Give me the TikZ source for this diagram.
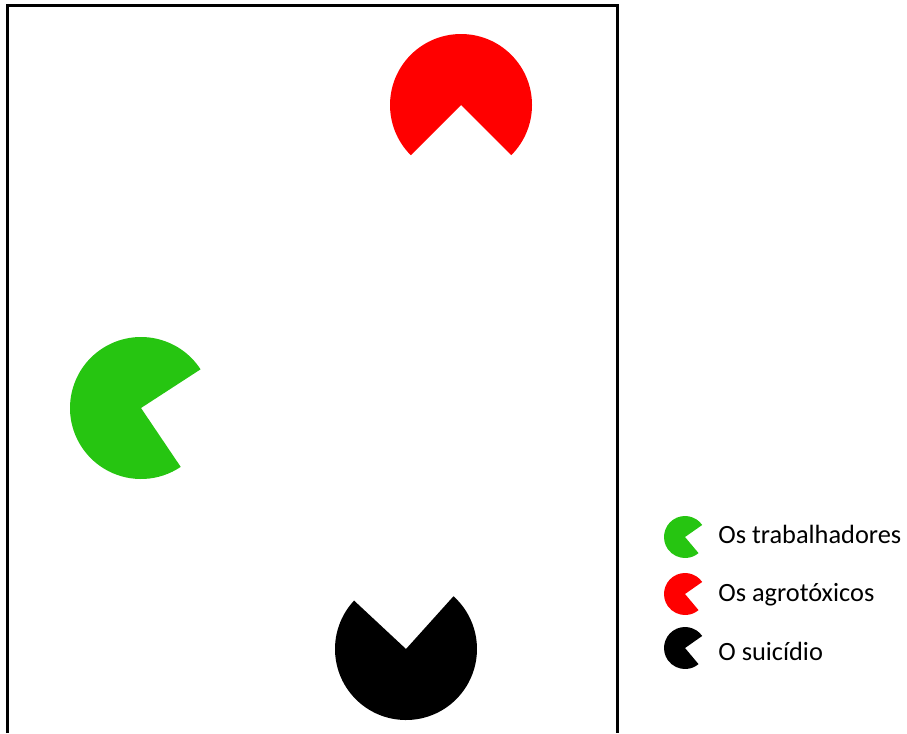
\documentclass[tikz,border=0pt]{standalone}
\usepackage{fontspec}
\setmainfont{Carlito}
\usepackage{tikz}
\usetikzlibrary{calc,positioning}
\definecolor{pacgreen}{RGB}{38,197,17}

\begin{document}
\begin{tikzpicture}[
  frame/.style={line width=1.5pt, draw=black},
  legtext/.style={anchor=base west, inner sep=0pt, font=\fontsize{15}{18}\selectfont},
]
\useasboundingbox (0,0) rectangle (18.14,-14.66);

% moldura
\draw[frame] (0.15,-14.66) -- (0.15,-0.11) -- (12.35,-0.11) -- (12.35,-14.66);

% centros
\coordinate (cred) at (9.22,-2.10);
\coordinate (cgreen) at (2.82,-8.16);
\coordinate (cblack) at (8.12,-12.98);

% figuras grandes
\fill[red] (cred) -- ++(-45:1.42) arc[start angle=-45, end angle=225, radius=1.42] -- cycle;
\fill[pacgreen] (cgreen) -- ++(33:1.42) arc[start angle=33, end angle=304, radius=1.42] -- cycle;
\fill[black] (cblack) -- ++(137:1.42) arc[start angle=137, end angle=408, radius=1.42] -- cycle;

% legenda
\coordinate (leg1) at (13.70,-10.74);
\coordinate (leg2) at (13.70,-11.88);
\coordinate (leg3) at (13.70,-12.96);
\fill[pacgreen] (leg1) -- ++(35:0.42) arc[start angle=35, end angle=310, radius=0.42] -- cycle;
\fill[red] (leg2) -- ++(35:0.42) arc[start angle=35, end angle=310, radius=0.42] -- cycle;
\fill[black] (leg3) -- ++(35:0.42) arc[start angle=35, end angle=310, radius=0.42] -- cycle;

\node[legtext] (lbl1) at (14.36,-10.86) {Os trabalhadores};
\node[legtext] (lbl2) at (14.36,-12.03) {Os agrotóxicos};
\node[legtext] (lbl3) at (14.36,-13.20) {O suicídio};

\end{tikzpicture}
\end{document}
